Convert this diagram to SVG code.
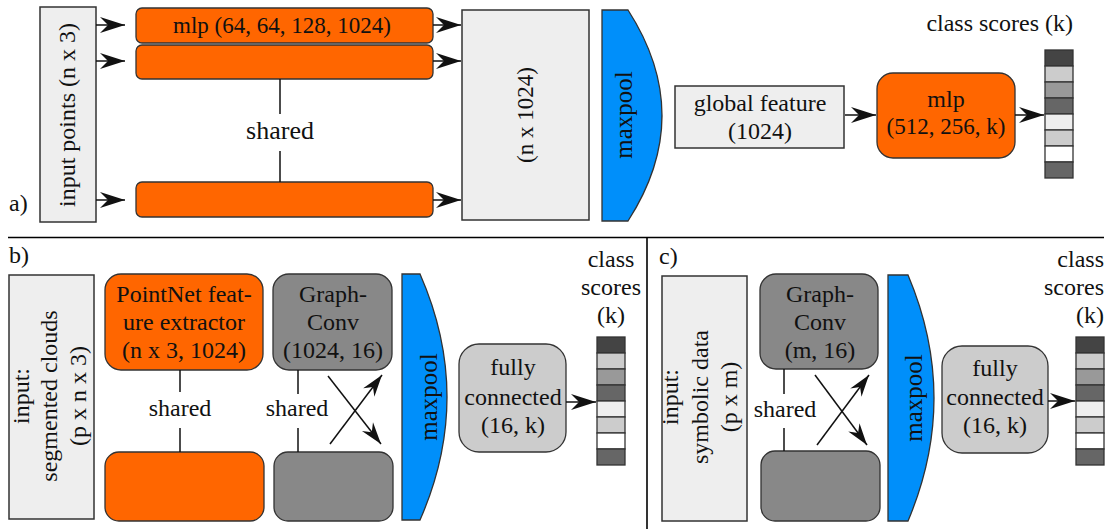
<svg xmlns="http://www.w3.org/2000/svg" width="1113" height="529" viewBox="0 0 1113 529">
<defs>
<style>
text{font-family:"Liberation Serif","Times New Roman",serif;font-size:24px;fill:#111}
.m{text-anchor:middle}
.e{text-anchor:end}
.in{fill:#eeeeee;stroke:#333;stroke-width:1.5}
.or{fill:#ff6600;stroke:#333;stroke-width:1.3}
.gr{fill:#888888;stroke:#333;stroke-width:1.3}
.fc{fill:#cccccc;stroke:#333;stroke-width:1.3}
.mp{fill:#008ffa;stroke:#333;stroke-width:1.3}
.ln{stroke:#111;stroke-width:1.5;fill:none}
.ar{stroke:#111;stroke-width:1.5;fill:none;marker-end:url(#ah)}
.ax{stroke:#111;stroke-width:1.5;fill:none;marker-end:url(#ah2)}
.sep{stroke:#000;stroke-width:1.6}
</style>
<marker id="ah" markerUnits="userSpaceOnUse" markerWidth="30" markerHeight="20" refX="0" refY="0" viewBox="-26 -10 28 20" orient="auto">
<path d="M0,0 L-25,-8 L-17,0 L-25,8 Z" fill="#111"/>
</marker>
<marker id="ah2" markerUnits="userSpaceOnUse" markerWidth="26" markerHeight="18" refX="0" refY="0" viewBox="-24 -9 26 18" orient="auto">
<path d="M0,0 L-22,-7 L-15,0 L-22,7 Z" fill="#111"/>
</marker>
<g id="scorebar">
<rect x="0" y="0" width="28" height="16" fill="#444444" stroke="#333" stroke-width="1.3"/>
<rect x="0" y="16" width="28" height="16" fill="#cccccc" stroke="#333" stroke-width="1.3"/>
<rect x="0" y="32" width="28" height="16" fill="#999999" stroke="#333" stroke-width="1.3"/>
<rect x="0" y="48" width="28" height="16" fill="#666666" stroke="#333" stroke-width="1.3"/>
<rect x="0" y="64" width="28" height="16" fill="#eeeeee" stroke="#333" stroke-width="1.3"/>
<rect x="0" y="80" width="28" height="16" fill="#cccccc" stroke="#333" stroke-width="1.3"/>
<rect x="0" y="96" width="28" height="16" fill="#ffffff" stroke="#333" stroke-width="1.3"/>
<rect x="0" y="112" width="28" height="16" fill="#666666" stroke="#333" stroke-width="1.3"/>
</g>
</defs>
<rect width="1113" height="529" fill="#ffffff"/>

<!-- separators -->
<g id="separators">
<line class="sep" x1="8" y1="237.5" x2="1104" y2="237.5"/>
<line class="sep" x1="647" y1="238" x2="647" y2="529"/>
</g>

<!-- ===== (a) ===== -->
<text x="9" y="211">a)</text>
<g id="a-input">
<rect class="in" x="40" y="7" width="56" height="215"/>
<text class="m" transform="translate(75,115) rotate(-90)">input points (n x 3)</text>
</g>
<g id="a-mlp1">
<rect class="or" x="136" y="8" width="297" height="35" rx="6"/>
<text class="m" x="282" y="33" style="font-size:23px">mlp (64, 64, 128, 1024)</text>
</g>
<g id="a-mlp2"><rect class="or" x="136" y="45" width="297" height="34" rx="6"/></g>
<g id="a-mlp3"><rect class="or" x="136" y="182" width="297" height="35" rx="6"/></g>
<g id="a-shared">
<text class="m" x="280" y="139" style="font-size:26px">shared</text>
</g>
<g id="a-features">
<rect class="in" x="462" y="10" width="127" height="210"/>
<text class="m" transform="translate(533,115) rotate(-90)" style="font-size:23px">(n x 1024)</text>
</g>
<g id="a-maxpool">
<path class="mp" d="M602,10 L628,10 Q696,115.5 628,221 L602,221 Z"/>
<text class="m" transform="translate(632,115) rotate(-90)" style="font-size:25px">maxpool</text>
</g>
<g id="a-global">
<rect class="in" x="675" y="86" width="169" height="62"/>
<text class="m" x="760" y="111">global feature</text>
<text class="m" x="760" y="139">(1024)</text>
</g>
<g id="a-mlp">
<rect class="or" x="877" y="73" width="138" height="85" rx="16"/>
<text class="m" x="946" y="107">mlp</text>
<text class="m" x="946" y="134" style="font-size:23px">(512, 256, k)</text>
</g>
<g id="a-scores">
<text class="e" x="1073" y="31">class scores (k)</text>
<use href="#scorebar" x="1045" y="50"/>
</g>

<!-- ===== (b) ===== -->
<text x="9" y="263">b)</text>
<g id="b-input">
<rect class="in" x="9" y="275" width="85" height="244"/>
<text class="m" transform="translate(29,396) rotate(-90)">input:</text>
<text class="m" transform="translate(57,396) rotate(-90)">segmented clouds</text>
<text class="m" transform="translate(86,396) rotate(-90)">(p x n x 3)</text>
</g>
<g id="b-pointnet">
<rect class="or" x="105" y="274" width="158" height="96" rx="16"/>
<text class="m" x="184" y="302">PointNet feat-</text>
<text class="m" x="184" y="330">ure extractor</text>
<text class="m" x="184" y="358">(n x 3, 1024)</text>
</g>
<g id="b-pointnet2"><rect class="or" x="105" y="452" width="159" height="69" rx="14"/></g>
<g id="b-graphconv">
<rect class="gr" x="273" y="274" width="119" height="96" rx="16"/>
<text class="m" x="333" y="302">Graph-</text>
<text class="m" x="333" y="330">Conv</text>
<text class="m" x="333" y="358">(1024, 16)</text>
</g>
<g id="b-graphconv2"><rect class="gr" x="274" y="452" width="119" height="69" rx="14"/></g>
<g id="b-shared">
<text class="m" x="180" y="416">shared</text>
<text class="m" x="297" y="416">shared</text>
</g>
<g id="b-maxpool">
<path class="mp" d="M402,274 L420,274 Q474,397 420,520 L402,520 Z"/>
<text class="m" transform="translate(437,397) rotate(-90)" style="font-size:25px">maxpool</text>
</g>
<g id="b-fc">
<rect class="fc" x="459" y="344" width="107" height="108" rx="20"/>
<text class="m" x="513" y="375">fully</text>
<text class="m" x="513" y="405">connected</text>
<text class="m" x="513" y="433">(16, k)</text>
</g>
<g id="b-scores">
<text class="m" x="611" y="267">class</text>
<text class="m" x="611" y="295">scores</text>
<text class="m" x="611" y="323">(k)</text>
<use href="#scorebar" x="597" y="337"/>
</g>

<!-- ===== (c) ===== -->
<text x="659" y="264">c)</text>
<g id="c-input">
<rect class="in" x="662" y="276" width="85" height="245"/>
<text class="m" transform="translate(678,397) rotate(-90)">input:</text>
<text class="m" transform="translate(708,397) rotate(-90)">symbolic data</text>
<text class="m" transform="translate(737,397) rotate(-90)">(p x m)</text>
</g>
<g id="c-graphconv">
<rect class="gr" x="760" y="274" width="118" height="95" rx="16"/>
<text class="m" x="820" y="302">Graph-</text>
<text class="m" x="820" y="330">Conv</text>
<text class="m" x="820" y="358">(m, 16)</text>
</g>
<g id="c-graphconv2"><rect class="gr" x="761" y="451" width="119" height="70" rx="14"/></g>
<g id="c-shared">
<text class="m" x="785" y="417">shared</text>
</g>
<g id="c-maxpool">
<path class="mp" d="M888,275 L908,275 Q960,398 908,521 L888,521 Z"/>
<text class="m" transform="translate(922,398) rotate(-90)" style="font-size:25px">maxpool</text>
</g>
<g id="c-fc">
<rect class="fc" x="942" y="346" width="106" height="107" rx="20"/>
<text class="m" x="995" y="376">fully</text>
<text class="m" x="995" y="405">connected</text>
<text class="m" x="995" y="433">(16, k)</text>
</g>
<g id="c-scores">
<text class="e" x="1104" y="267">class</text>
<text class="e" x="1104" y="295">scores</text>
<text class="e" x="1104" y="323">(k)</text>
<use href="#scorebar" x="1076" y="337"/>
</g>

<!-- connectors -->
<g id="connectors">
<line class="ar" x1="96" y1="25" x2="125" y2="25"/>
<line class="ar" x1="96" y1="61" x2="125" y2="61"/>
<line class="ar" x1="96" y1="200" x2="125" y2="200"/>
<line class="ar" x1="433" y1="25" x2="461" y2="25"/>
<line class="ar" x1="433" y1="61" x2="461" y2="61"/>
<line class="ar" x1="433" y1="200" x2="461" y2="200"/>
<line class="ln" x1="280" y1="79" x2="280" y2="114"/>
<line class="ln" x1="280" y1="151" x2="280" y2="182"/>
<line class="ar" x1="845" y1="115" x2="876" y2="115"/>
<line class="ar" x1="1015" y1="115" x2="1044" y2="115"/>
<line class="ln" x1="180" y1="370" x2="180" y2="392"/>
<line class="ln" x1="180" y1="428" x2="180" y2="452"/>
<line class="ln" x1="298" y1="370" x2="298" y2="394"/>
<line class="ln" x1="298" y1="428" x2="298" y2="452"/>
<line class="ax" x1="328" y1="376" x2="381" y2="444"/>
<line class="ax" x1="330" y1="444" x2="382" y2="375"/>
<line class="ar" x1="566" y1="402" x2="596" y2="402"/>
<line class="ln" x1="784" y1="369" x2="784" y2="394"/>
<line class="ln" x1="784" y1="428" x2="784" y2="451"/>
<line class="ax" x1="815" y1="375" x2="867" y2="445"/>
<line class="ax" x1="817" y1="445" x2="869" y2="375"/>
<line class="ar" x1="1048" y1="401" x2="1075" y2="401"/>
</g>
</svg>
